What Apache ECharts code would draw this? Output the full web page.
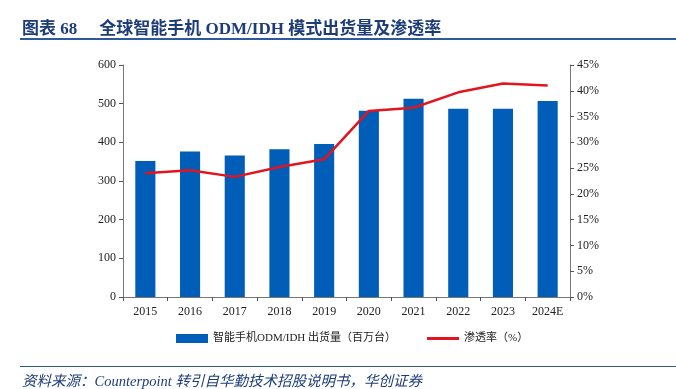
<!DOCTYPE html>
<html><head><meta charset="utf-8">
<script src="https://cdn.jsdelivr.net/npm/echarts@6/dist/echarts.min.js"></script>
<style>
html,body{margin:0;padding:0;background:#fff;}
#wrap{position:relative;width:676px;height:389px;overflow:hidden;}
#chart{position:absolute;left:0;top:0;width:676px;height:389px;}
#title{position:absolute;left:22px;top:14px;font-family:"Liberation Serif","Noto Sans CJK SC";font-weight:bold;font-size:17px;color:#1c3d7a;white-space:pre;}
#title span{margin-left:22px;}
#rule1{position:absolute;left:20px;top:38px;width:656px;height:2px;background:#2d5a9a;}
#rule2{position:absolute;left:20px;top:366px;width:656px;height:1px;background:#2d5a9a;}
#src{position:absolute;left:22px;top:369px;font-family:"Liberation Serif","Noto Sans CJK SC";font-style:italic;font-size:14.5px;color:#1c3d7a;white-space:pre;}
</style></head>
<body><div id="wrap">
<div id="chart"></div>
<div id="title">图表 68<span>全球智能手机 ODM/IDH 模式出货量及渗透率</span></div>
<div id="rule1"></div>
<div id="rule2"></div>
<div id="src">资料来源：Counterpoint 转引自华勤技术招股说明书，华创证券</div>
</div>
<script>
const categories = ['2015','2016','2017','2018','2019','2020','2021','2022','2023','2024E'];
const shipments = [352,376,366,382,396,482,513,487,487,507];
const penetration = [24.0,24.6,23.3,25.2,26.7,36.1,36.7,39.7,41.4,41.0];
const seriesNames = ['智能手机ODM/IDH 出货量（百万台）','渗透率（%）'];

const font = '"Liberation Serif","Noto Sans CJK SC"';
const chart = echarts.init(document.getElementById('chart'));
chart.setOption({
  animation:false,
  grid:{left:123,right:106,top:65,bottom:92},
  legend:{
    bottom:40,left:171,itemGap:31,itemWidth:32,itemHeight:9,
    textStyle:{fontFamily:font,fontSize:11,color:'#222'},
    data:[{name:seriesNames[0],icon:'rect'},
          {name:seriesNames[1],icon:'path://M0,0H32V3H0Z',itemStyle:{color:'#e2151f'}}]
  },
  xAxis:{
    type:'category',data:categories,
    axisLine:{lineStyle:{color:'#777',width:1}},
    axisTick:{show:true,alignWithLabel:false,lineStyle:{color:'#555'},length:4},
    axisLabel:{fontFamily:font,fontSize:12,color:'#222',margin:9}
  },
  yAxis:[{
    type:'value',min:0,max:600,interval:100,
    axisLine:{show:true,lineStyle:{color:'#777'}},
    axisTick:{show:true,inside:false,length:4,lineStyle:{color:'#555'}},
    splitLine:{show:false},
    axisLabel:{fontFamily:font,fontSize:12,color:'#222',margin:7}
  },{
    type:'value',min:0,max:45,interval:5,position:'right',
    axisLine:{show:true,lineStyle:{color:'#777'}},
    axisTick:{show:true,length:4,lineStyle:{color:'#555'}},
    splitLine:{show:false},
    axisLabel:{fontFamily:font,fontSize:12,color:'#222',margin:7,formatter:'{value}%'}
  }],
  series:[{
    name:seriesNames[0],type:'bar',data:shipments,barWidth:'45%',
    itemStyle:{color:'#005eb8'}
  },{
    name:seriesNames[1],type:'line',yAxisIndex:1,data:penetration,
    symbol:'none',lineStyle:{color:'#e2151f',width:2.5},itemStyle:{color:'#e2151f'}
  }]
});
</script>
</body></html>
